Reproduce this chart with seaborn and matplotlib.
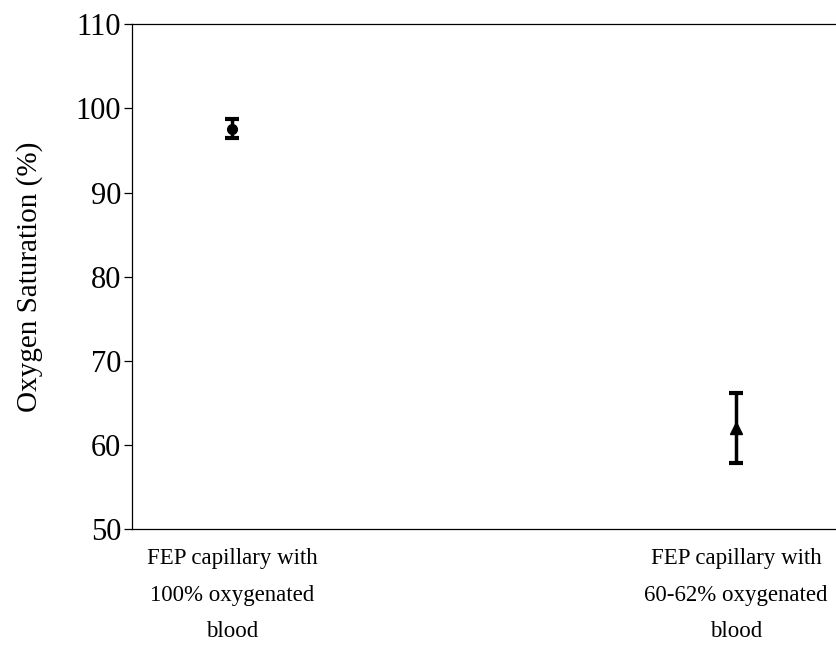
import numpy as np
import pandas as pd
import seaborn as sns
import matplotlib.pyplot as plt

sns.set_style('white')
plt.rcParams['font.family'] = ['Liberation Serif', 'DejaVu Serif']
plt.rcParams['text.color'] = 'black'
plt.rcParams['axes.labelcolor'] = 'black'
plt.rcParams['xtick.color'] = 'black'
plt.rcParams['ytick.color'] = 'black'

# DATA
categories = ['FEP capillary with\n100% oxygenated\nblood',
              'FEP capillary with\n60-62% oxygenated\nblood']
saturation = [97.6, 62.0]
sat_err = [1.15, 4.2]
markers = ['o', '^']

df = pd.DataFrame({'group': categories, 'sat': saturation, 'err': sat_err})

fig = plt.figure(figsize=(8.37, 6.46), dpi=100)
ax = fig.add_axes([0.1573, 0.1811, 0.8427, 0.7813])

for i, row in df.iterrows():
    ax.errorbar(i, row['sat'], yerr=row['err'], fmt=markers[i], color='black',
                ms=7 if markers[i] == 'o' else 8, elinewidth=2.5, capsize=5,
                capthick=3, zorder=3)

ax.set_xlim(-0.2, 1.2)
ax.set_ylim(50, 110)
ax.set_yticks(np.arange(50, 111, 10))
ax.set_xticks(range(len(categories)))
ax.set_xticklabels(categories, fontsize=16.5, linespacing=1.95)
ax.set_ylabel('Oxygen Saturation (%)', fontsize=21)
ax.yaxis.set_label_coords(-0.125, 0.5)

ax.tick_params(axis='y', which='both', left=True, length=5.5, width=0.9,
               labelsize=22, pad=2, color='black')
ax.tick_params(axis='x', length=0, pad=14)

for side in ['left', 'top', 'bottom', 'right']:
    ax.spines[side].set_color('black')
    ax.spines[side].set_linewidth(0.9)

fig.savefig('out.png', dpi=100)
